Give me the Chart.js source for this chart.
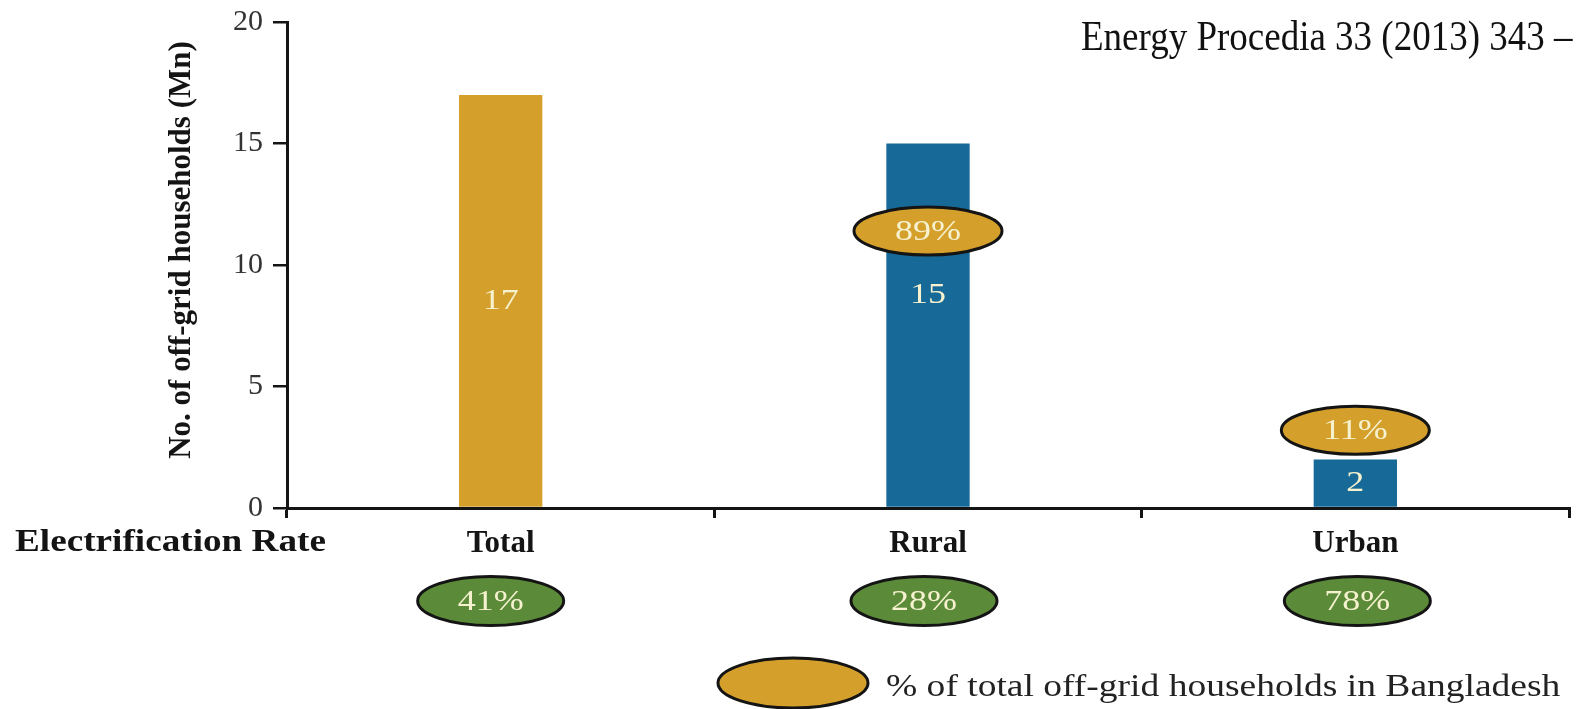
<!DOCTYPE html>
<html>
<head>
<meta charset="utf-8">
<script src="https://cdn.jsdelivr.net/npm/chart.js@4.4.0/dist/chart.umd.min.js"></script>
<style>
  html, body { margin: 0; padding: 0; background: #fff; }
  canvas { display: block; }
</style>
</head>
<body>
<canvas id="offGridChart" width="1587" height="709"></canvas>
<script>
// data
const categories = ["Total", "Rural", "Urban"];
const households = [17, 15, 2]; // million off-grid households
const shareOfOffGrid = [null, "89%", "11%"]; // % of total off-grid households
const electrificationRate = ["41%", "28%", "78%"];
const yTicks = [0, 5, 10, 15, 20];

const barColors = ["#d4a02b", "#176a98", "#176a98"];
const ORANGE = "#d4a02b";
const GREEN = "#5b8b39";
const CREAM = "#f6f1cf";
const SERIF = "'Liberation Serif', 'Times New Roman', serif";

// text helper: the figure's typeface is wider than Times, so stretch it a bit
function stretchText(ctx, text, x, y, font, color, sx, sy, align, rot) {
  ctx.save();
  ctx.translate(x, y);
  if (rot) ctx.rotate(rot);
  ctx.scale(sx || 1, sy || 1);
  ctx.font = font;
  ctx.fillStyle = color;
  ctx.textAlign = align || "center";
  ctx.textBaseline = "middle";
  ctx.fillText(text, 0, 0);
  ctx.restore();
}

function oval(ctx, cx, cy, w, h, fill, text) {
  ctx.save();
  ctx.beginPath();
  ctx.ellipse(cx, cy, w / 2, h / 2, 0, 0, Math.PI * 2);
  ctx.fillStyle = fill;
  ctx.fill();
  ctx.lineWidth = 3;
  ctx.strokeStyle = "#141414";
  ctx.stroke();
  ctx.restore();
  if (text) stretchText(ctx, text, cx, cy + 1, "30px " + SERIF, CREAM, 1.2, 1);
}

const annotations = {
  id: "annotations",
  afterDatasetsDraw(chart) {
    const ctx = chart.ctx;
    const y = chart.scales.y;
    const bars = chart.getDatasetMeta(0).data;
    // value inside each bar (Rural label sits below its oval)
    const labelAt = [null, 8.75, null];
    bars.forEach((bar, i) => {
      const ly = labelAt[i] == null ? (bar.y + bar.base) / 2 : y.getPixelForValue(labelAt[i]);
      stretchText(ctx, String(households[i]), bar.x, ly, "30px " + SERIF, CREAM, 1.2, 1);
    });
    // share ovals on the bars
    const ovalAt = [null, 11.4, 3.2];
    bars.forEach((bar, i) => {
      if (shareOfOffGrid[i]) oval(ctx, bar.x, y.getPixelForValue(ovalAt[i]), 148, 48, ORANGE, shareOfOffGrid[i]);
    });
  },
  afterDraw(chart) {
    const ctx = chart.ctx;
    const x = chart.scales.x;
    // y axis title, a bit above the plot centre as in the figure
    stretchText(ctx, "No. of off-grid households (Mn)", 182, 250, "bold 31px " + SERIF, "#141414", 1, 1, "center", -Math.PI / 2);
    // electrification rate row
    stretchText(ctx, "Electrification Rate", 15, 543, "bold 31px " + SERIF, "#141414", 1.2, 1, "left");
    const rateShift = [-10, -4, 2];
    electrificationRate.forEach((r, i) => {
      oval(ctx, x.getPixelForValue(i) + rateShift[i], 601, 146, 49, GREEN, r);
    });
    // legend
    oval(ctx, 793, 683, 150, 50, ORANGE, null);
    stretchText(ctx, "% of total off-grid households in Bangladesh", 886, 688, "31px " + SERIF, "#222", 1.21, 1, "left");
    // citation header
    stretchText(ctx, "Energy Procedia 33 (2013) 343 \u2013", 1081, 39, "37px " + SERIF, "#111", 1, 1.15, "left");
  }
};

new Chart(document.getElementById("offGridChart").getContext("2d"), {
  type: "bar",
  data: {
    labels: categories,
    datasets: [{
      label: "No. of off-grid households (Mn)",
      data: households,
      backgroundColor: barColors,
      borderWidth: 0,
      categoryPercentage: 1,
      barPercentage: 0.195
    }]
  },
  options: {
    responsive: false,
    animation: false,
    events: [],
    layout: { padding: { left: 0, right: 18, top: 22, bottom: 141 } },
    plugins: {
      legend: { display: false },
      tooltip: { enabled: false }
    },
    scales: {
      x: {
        afterFit(scale) { scale.height = 60; },
        grid: { drawOnChartArea: false, drawTicks: true, tickLength: 10, color: "#141414", lineWidth: 3 },
        border: { color: "#141414", width: 3 },
        ticks: { color: "#141414", padding: 7, font: { family: SERIF, size: 31, weight: "bold" } }
      },
      y: {
        min: 0,
        max: 20,
        afterFit(scale) {
          scale.width = 287;
          scale.paddingTop = 0;
          scale.paddingBottom = 0;
        },
        afterBuildTicks(scale) { scale.ticks = yTicks.map(v => ({ value: v })); },
        grid: { drawOnChartArea: false, drawTicks: true, tickLength: 14, color: "#141414", lineWidth: 2.5 },
        border: { color: "#141414", width: 3 },
        ticks: { color: "#333", padding: 10, font: { family: SERIF, size: 30 } },
        title: { display: false }
      }
    }
  },
  plugins: [annotations]
});
</script>
</body>
</html>
